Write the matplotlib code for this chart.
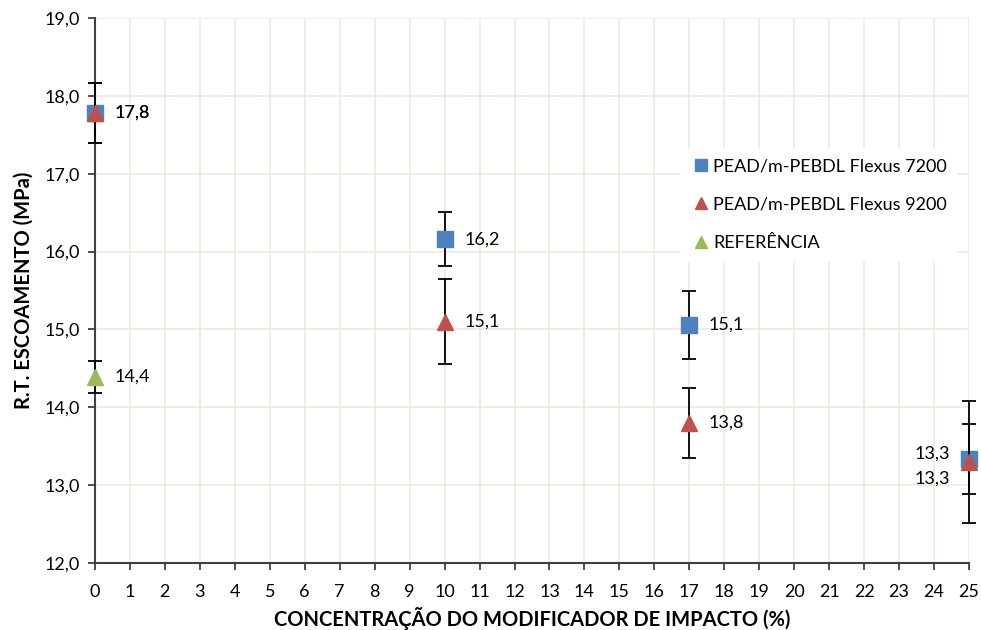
import matplotlib
matplotlib.use("Agg")
from matplotlib import pyplot as plt
from matplotlib.ticker import FuncFormatter

# dados
conc_7200 = [0, 10, 17, 25]
rt_7200 = [17.78, 16.16, 15.06, 13.34]
err_7200 = [0.38, 0.35, 0.44, 0.45]
lbl_7200 = ["17,8", "16,2", "15,1", "13,3"]

conc_9200 = [0, 10, 17, 25]
rt_9200 = [17.78, 15.10, 13.80, 13.30]
err_9200 = [0.38, 0.55, 0.45, 0.78]
lbl_9200 = ["17,8", "15,1", "13,8", "13,3"]

conc_ref = [0]
rt_ref = [14.39]
err_ref = [0.20]
lbl_ref = ["14,4"]

plt.rcParams['font.family'] = ['Lato', 'DejaVu Sans']

fig = plt.figure(figsize=(9.81, 6.3), dpi=100)
ax = fig.add_axes([0.0968, 0.1063, 0.891, 0.8651])

grid_color = '#EDEADF'
ax.set_xlim(0, 25)
ax.set_ylim(12, 19)
ax.set_xticks(range(0, 26))
ax.set_yticks([12, 13, 14, 15, 16, 17, 18, 19])
ax.yaxis.set_major_formatter(FuncFormatter(lambda v, p: f"{v:.1f}".replace(".", ",")))
ax.grid(True, color=grid_color, linewidth=1.2, zorder=0)
ax.set_axisbelow(True)
for s in ['top', 'right']:
    ax.spines[s].set_visible(False)
ax.spines['left'].set_color('#404040')
ax.spines['bottom'].set_color('#404040')
ax.spines['left'].set_linewidth(1.5)
ax.spines['bottom'].set_linewidth(1.5)
ax.tick_params(axis='both', length=5, width=1.3, color='#404040', labelsize=13)
ax.tick_params(axis='x', pad=10)
ax.tick_params(axis='y', pad=6)

ax.errorbar(conc_7200, rt_7200, yerr=err_7200, fmt='s', color='#4F81BD', markersize=11,
            ecolor='black', elinewidth=1.3, capsize=5, capthick=1.3, clip_on=False, zorder=3,
            label='PEAD/m-PEBDL Flexus 7200')
ax.errorbar(conc_9200, rt_9200, yerr=err_9200, fmt='^', color='#C0504D', markersize=11,
            ecolor='black', elinewidth=1.3, capsize=5, capthick=1.3, clip_on=False, zorder=4,
            label='PEAD/m-PEBDL Flexus 9200')
ax.errorbar(conc_ref, rt_ref, yerr=err_ref, fmt='^', color='#9BBB59', markersize=11,
            ecolor='black', elinewidth=1.3, capsize=5, capthick=1.3, clip_on=False, zorder=4,
            label='REFERÊNCIA')

# rótulos
for x, y, t in zip(conc_7200, rt_7200, lbl_7200):
    if x == 25:
        ax.annotate(t, (x, y), xytext=(-14, 4), textcoords='offset points', ha='right', va='center', fontsize=13)
    else:
        ax.annotate(t, (x, y), xytext=(14, 0), textcoords='offset points', ha='left', va='center', fontsize=13)
for x, y, t in zip(conc_9200, rt_9200, lbl_9200):
    if x == 25:
        ax.annotate(t, (x, y), xytext=(-14, -12), textcoords='offset points', ha='right', va='center', fontsize=13)
    else:
        ax.annotate(t, (x, y), xytext=(14, 0), textcoords='offset points', ha='left', va='center', fontsize=13)
for x, y, t in zip(conc_ref, rt_ref, lbl_ref):
    ax.annotate(t, (x, y), xytext=(14, 0), textcoords='offset points', ha='left', va='center', fontsize=13)

handles, labels = ax.get_legend_handles_labels()
handles = [h[0] for h in handles]
leg = ax.legend(handles, labels, loc='upper left', bbox_to_anchor=(0.66, 0.776), frameon=True,
                fontsize=13, handletextpad=0.1, handlelength=1.2, labelspacing=1.25,
                borderpad=0.5, markerscale=0.8)
leg.get_frame().set_facecolor('white')
leg.get_frame().set_edgecolor('white')
leg.get_frame().set_alpha(1)

ax.set_xlabel('CONCENTRAÇÃO DO MODIFICADOR DE IMPACTO (%)', fontsize=14.5, fontweight='bold', labelpad=5)
ax.set_ylabel('R.T. ESCOAMENTO (MPa)', fontsize=14.5, fontweight='bold', labelpad=8)

plt.savefig('out.png', dpi=100)
plt.close()
